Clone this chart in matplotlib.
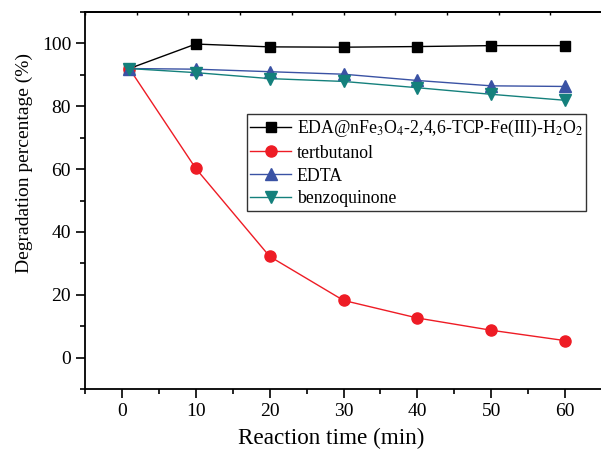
import matplotlib
matplotlib.use("Agg")
import matplotlib.pyplot as plt
import numpy as np
from matplotlib.ticker import MultipleLocator

plt.rcParams["font.family"] = ["Liberation Serif", "DejaVu Serif"]
plt.rcParams["mathtext.fontset"] = "stix"

# data
time_min = [1, 10, 20, 30, 40, 50, 60]
eda_system = [92, 99.8, 98.9, 98.8, 99.0, 99.3, 99.3]
tertbutanol = [92, 60.2, 32.2, 18.2, 12.6, 8.7, 5.4]
edta = [92, 91.8, 91.0, 90.2, 88.2, 86.5, 86.3]
benzoquinone = [92, 90.7, 88.8, 87.9, 85.9, 83.8, 81.9]

labels = [r"EDA@nFe$_3$O$_4$-2,4,6-TCP-Fe(III)-H$_2$O$_2$",
          "tertbutanol", "EDTA", "benzoquinone"]

fig = plt.figure(figsize=(6.01, 4.5), dpi=100)
ax = fig.add_axes([85 / 601, 1 - 389 / 450, (602 - 85) / 601, (389 - 12) / 450])

ax.plot(time_min, eda_system, "-s", color="black", lw=1.0, ms=6.5, label=labels[0])
ax.plot(time_min, tertbutanol, "-o", color="#ee1c25", lw=1.0, ms=8, label=labels[1])
ax.plot(time_min, edta, "-^", color="#3a52a4", lw=1.0, ms=8.5, label=labels[2])
ax.plot(time_min, benzoquinone, "-v", color="#14807c", lw=1.0, ms=8.5, label=labels[3])

ax.set_xlim(-5, 65)
ax.set_ylim(-10, 110)
ax.set_xticks(range(0, 61, 10))
ax.xaxis.set_minor_locator(MultipleLocator(5))
ax.yaxis.set_major_locator(MultipleLocator(20))
ax.yaxis.set_minor_locator(MultipleLocator(10))

ax.tick_params(which="both", direction="out", width=1.2, labelsize=14, top=False, right=False)
ax.tick_params(which="major", length=6.5)
ax.tick_params(which="minor", length=3.5)

# small inward ticks on the top axis
sec = ax.secondary_xaxis("top")
sec.set_xticks(np.arange(-5, 66, 7))
sec.tick_params(direction="in", length=2, width=1.0, labeltop=False)
sec.spines["top"].set_linewidth(1.3)

for side in ["left", "bottom", "top"]:
    ax.spines[side].set_linewidth(1.3)

ax.set_xlabel("Reaction time (min)", fontsize=16.7)
ax.xaxis.set_label_coords(0.476, -0.103)
ax.set_ylabel("Degradation percentage (%)", fontsize=14)
ax.yaxis.set_label_coords(-0.1, 0.6)

leg = ax.legend(loc="upper left", bbox_to_anchor=(0.313, 0.729), fontsize=12.8,
                frameon=True, fancybox=False, edgecolor="black",
                handlelength=2.3, handletextpad=0.3, borderpad=0.2,
                labelspacing=0.33, borderaxespad=0)
leg.get_frame().set_linewidth(1.0)

fig.savefig("out.png", dpi=100)
